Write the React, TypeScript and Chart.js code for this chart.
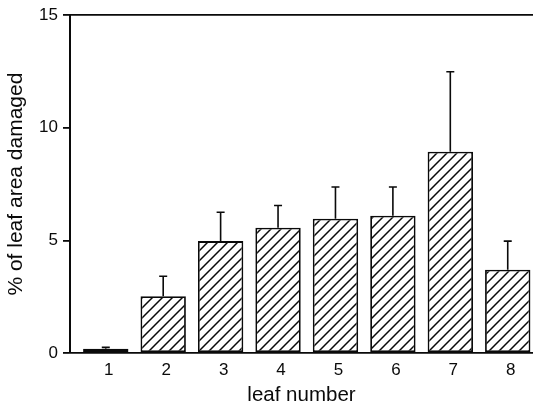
import React, { useEffect, useRef } from "react";
import { Chart, registerables } from "chart.js";

Chart.register(...registerables);

const categories = ["1", "2", "3", "4", "5", "6", "7", "8"];
const damage = [0.19, 2.52, 4.97, 5.56, 5.96, 6.1, 8.94, 3.7];
const stdErr = [0.06, 0.89, 1.28, 0.99, 1.41, 1.27, 3.55, 1.27];
const yTicks = [0, 5, 10, 15];

const FONT = "'Liberation Sans', Arial, Helvetica, sans-serif";
const INK = "#0a0a0a";

function makeHatch(): CanvasPattern | string {
  const s = 10;
  const c = document.createElement("canvas");
  c.width = s;
  c.height = s;
  const g = c.getContext("2d");
  if (!g) return "#fff";
  g.fillStyle = "#fff";
  g.fillRect(0, 0, s, s);
  g.strokeStyle = INK;
  g.lineWidth = 1.5;
  g.beginPath();
  g.moveTo(-1, s + 1);
  g.lineTo(s + 1, -1);
  g.moveTo(-1, 1);
  g.lineTo(1, -1);
  g.moveTo(s - 1, s + 1);
  g.lineTo(s + 1, s - 1);
  g.stroke();
  return g.createPattern(c, "repeat") || "#fff";
}

const errorBars = {
  id: "errorBars",
  afterDatasetsDraw(chart: any) {
    const { ctx, scales } = chart;
    const x = scales.x;
    const y = scales.y;
    ctx.save();
    ctx.strokeStyle = INK;
    ctx.lineWidth = 1.6;
    damage.forEach((v, i) => {
      const px = x.getPixelForValue(i + 1);
      const yTop = y.getPixelForValue(v);
      const yErr = y.getPixelForValue(v + stdErr[i]);
      ctx.beginPath();
      ctx.moveTo(px, yTop);
      ctx.lineTo(px, yErr);
      ctx.moveTo(px - 4, yErr);
      ctx.lineTo(px + 4, yErr);
      ctx.stroke();
    });
    ctx.restore();
  },
};

export default function App() {
  const ref = useRef<HTMLCanvasElement>(null);
  useEffect(() => {
    document.body.style.margin = "0";
    const canvas = ref.current;
    if (!canvas) return;
    const hatch = makeHatch();
    const chart = new Chart(canvas, {
      type: "bar",
      data: {
        datasets: [
          {
            data: damage.map((v, i) => ({ x: i + 1, y: v })),
            backgroundColor: hatch as any,
            borderColor: INK,
            borderWidth: 1.8,
            borderSkipped: false,
            barPercentage: 0.79,
            categoryPercentage: 1,
          },
        ],
      },
      options: {
        responsive: false,
        animation: false,
        layout: { padding: { top: 13, right: 0, left: 0, bottom: 0 } },
        plugins: { legend: { display: false }, tooltip: { enabled: false } },
        scales: {
          x: {
            type: "linear",
            min: 0.377,
            max: 8.44,
            offset: false,
            grid: { display: false, drawTicks: false, offset: false },
            border: { display: false },
            afterBuildTicks: (s: any) => {
              s.ticks = categories.map((_, i) => ({ value: i + 1 }));
            },
            afterFit: (s: any) => {
              s.height = 53;
            },
            ticks: {
              autoSkip: false,
              maxRotation: 0,
              padding: 7,
              labelOffset: 3,
              color: INK,
              font: { family: FONT, size: 17 },
              callback: (v: any) => categories[Number(v) - 1] ?? "",
            },
            title: {
              display: true,
              text: "leaf number",
              color: INK,
              font: { family: FONT, size: 20.5, lineHeight: 1 },
              padding: { top: 0, bottom: 0 },
            },
          },
          y: {
            min: 0,
            max: 15,
            afterBuildTicks: (s: any) => {
              s.ticks = yTicks.map((v) => ({ value: v }));
            },
            afterFit: (s: any) => {
              s.width = 70;
            },
            grid: {
              color: (c: any) =>
                c.tick && (c.tick.value === 0 || c.tick.value === 15) ? INK : "rgba(0,0,0,0)",
              tickColor: INK,
              tickLength: 7,
              lineWidth: 1.8,
            },
            border: { display: true, color: INK, width: 2 },
            ticks: {
              padding: 5,
              color: INK,
              font: { family: FONT, size: 17 },
            },
            title: {
              display: true,
              text: "% of leaf area damaged",
              color: INK,
              font: { family: FONT, size: 21, lineHeight: 1.2 },
              padding: { top: 4, bottom: 0 },
            },
          },
        },
      },
      plugins: [errorBars],
    });
    return () => chart.destroy();
  }, []);
  return <canvas ref={ref} width={533} height={406} style={{ display: "block" }} />;
}
